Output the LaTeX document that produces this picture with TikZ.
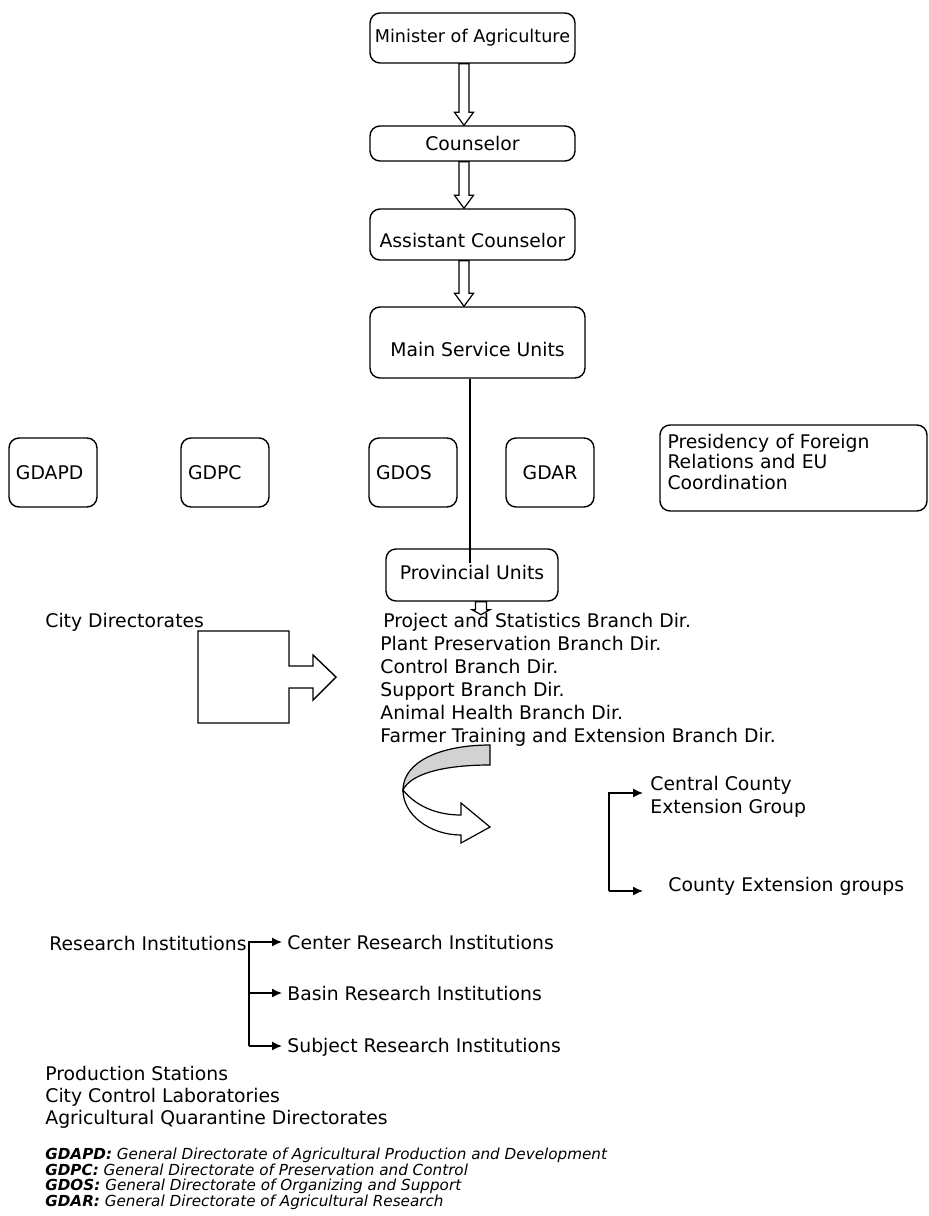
\documentclass[tikz,border=0pt]{standalone}
\usepackage{fontspec}
\setmainfont{DejaVu Sans}[ItalicFont={DejaVu Sans Oblique},BoldFont={DejaVu Sans Bold},BoldItalicFont={DejaVu Sans Bold Oblique}]
\usetikzlibrary{arrows.meta,calc}

\newcommand\bodysize{\fontsize{9.4}{11.5}\selectfont}
\newcommand\notesize{\fontsize{7.6}{8.4}\selectfont}
% hollow arrow pointing down: half shaft, half head, head length, from, to
\newcommand\hollowdown[5]{%
  \draw[line width=0.6pt,fill=white] let \p1=(#4), \p2=(#5) in
    (\x1-#1,\y1) -- (\x1-#1,\y2+#3) -- (\x1-#2,\y2+#3) -- (\x1,\y2)
    -- (\x1+#2,\y2+#3) -- (\x1+#1,\y2+#3) -- (\x1+#1,\y1) -- cycle;}

\begin{document}
\begin{tikzpicture}[x=0.5pt,y=-0.5pt,
  box/.style={draw,line width=0.7pt,rounded corners=5pt,inner sep=0pt,font=\bodysize},
  gdbox/.style={box,minimum width=44pt,minimum height=34.5pt,text width=37pt,align=left},
  txt/.style={inner sep=0pt,font=\bodysize,anchor=base west},
  note/.style={inner sep=0pt,font=\notesize\itshape,anchor=base west},
  brk/.style={line width=0.7pt,-{Latex[length=5pt,width=4.5pt]}}]
  \useasboundingbox (0,0) rectangle (929,1216);

  % chain at the top
  \node[box,minimum width=102.5pt,minimum height=25pt,font=\fontsize{8.8}{10}\selectfont] (minister) at (472.5,38) {Minister of Agriculture};
  \node[box,minimum width=102.5pt,minimum height=17.5pt] (counselor) at (472.5,143.5) {Counselor};
  \node[box,minimum width=102.5pt,minimum height=25.5pt,text height=13pt,text depth=0pt] (assistant) at (472.5,234.5) {Assistant Counselor};
  \node[box,minimum width=107.5pt,minimum height=35.5pt,text height=14pt,text depth=0pt] (mainsu) at (477.5,342.5) {Main Service Units};
  \hollowdown{2.5pt}{4.75pt}{6.5pt}{$(minister.south)+(-8.5,0)$}{$(counselor.north)+(-8.5,0)$}
  \hollowdown{2.5pt}{4.75pt}{6.5pt}{$(counselor.south)+(-8.5,0)$}{$(assistant.north)+(-8.5,0)$}
  \hollowdown{2.5pt}{4.75pt}{6.5pt}{$(assistant.south)+(-8.5,0)$}{$(mainsu.north)+(-13.5,0)$}

  % general directorates
  \node[gdbox] (gdapd) at (53,472.5) {GDAPD};
  \node[gdbox] (gdpc) at (225,472.5) {GDPC};
  \node[gdbox] (gdos) at (413,472.5) {GDOS};
  \node[gdbox,align=center] (gdar) at (550,472.5) {GDAR};
  \node[box,minimum width=133.5pt,minimum height=43pt,inner xsep=3.75pt,text width=126pt,align=left,font=\fontsize{9.4}{10.2}\selectfont] (presidency) at (793.5,468) {Presidency of Foreign\\Relations and EU\\Coordination\rule[-6.5pt]{0pt}{0pt}};

  % provincial units
  \node[box,minimum width=86pt,minimum height=26pt] (provincial) at (472,575) {Provincial Units\rule[-3pt]{0pt}{0pt}};
  \coordinate (pu) at (470,563);
  \draw[line width=0.7pt] (mainsu.south -| pu) -- (pu);
  \hollowdown{2.75pt}{4.5pt}{2.5pt}{$(provincial.south)+(9,0)$}{$(provincial.south)+(9,13)$}

  \node[inner sep=0pt,font=\bodysize,anchor=north west,align=left] (branches) at (380,613) {\hspace*{1.5pt}Project and Statistics Branch Dir.\\Plant Preservation Branch Dir.\\Control Branch Dir.\\Support Branch Dir.\\Animal Health Branch Dir.\\Farmer Training and Extension Branch Dir.};
  \node[txt] (city) at (45,627) {City Directorates};
  \draw[line width=0.7pt] (198,631) -- (289,631) -- (289,666) -- (313,666) -- (313,655) -- (336,677)
    -- (313,700) -- (313,688) -- (289,688) -- (289,723) -- (198,723) -- cycle;

  % curved arrow
  \draw[line width=0.6pt,fill=gray!35] (490,745) .. controls (440,745) and (403,762) .. (403,790)
    .. controls (410,775) and (440,765) .. (490,765) -- cycle;
  \draw[line width=0.6pt,fill=white] (403,790) .. controls (415,805) and (435,815) .. (461,815)
    -- (461,803) -- (490,827) -- (461,843) -- (461,835)
    .. controls (430,835) and (403,815) .. (403,790) -- cycle;

  % county groups
  \node[inner sep=0pt,font=\bodysize,anchor=west,align=left] (central) at (650,797) {Central County\\Extension Group};
  \node[txt] (county) at (668,891) {County Extension groups};
  \coordinate (ctop) at (609,793);
  \coordinate (cbot) at (609,891);
  \draw[brk,shorten >=3.5pt] (cbot) -- (ctop) -- (ctop -| central.west);
  \draw[brk,shorten >=12.5pt] (cbot) -- (cbot -| county.west);

  % research
  \node[txt,anchor=base east] (research) at (247,950) {Research Institutions};
  \node[txt] (center) at (287,949) {Center Research Institutions};
  \node[txt] (basin) at (287,1000) {Basin Research Institutions};
  \node[txt] (subject) at (287,1052) {Subject Research Institutions};
  \coordinate (rtop) at (249,942);
  \coordinate (rbot) at (249,1046);
  \draw[brk,shorten >=2.5pt] (rbot) -- (rtop) -- (rtop -| center.west);
  \draw[brk,shorten >=2.5pt] (rtop |- 0,993) -- (basin.west |- 0,993);
  \draw[brk,shorten >=2.5pt] (rbot) -- (rbot -| subject.west);

  \node[txt] (production) at (45,1080) {Production Stations};
  \node[txt] (labs) at (45,1102) {City Control Laboratories};
  \node[txt] (quarantine) at (45,1124) {Agricultural Quarantine Directorates};

  % abbreviations
  \node[note] (ngdapd) at (45,1159.5) {\textbf{GDAPD:} General Directorate of Agricultural Production and Development};
  \node[note] (ngdpc) at (45,1175.5) {\textbf{GDPC:} General Directorate of Preservation and Control};
  \node[note] (ngdos) at (45,1190.5) {\textbf{GDOS:} General Directorate of Organizing and Support};
  \node[note] (ngdar) at (45,1206.5) {\textbf{GDAR:} General Directorate of Agricultural Research};
\end{tikzpicture}
\end{document}
